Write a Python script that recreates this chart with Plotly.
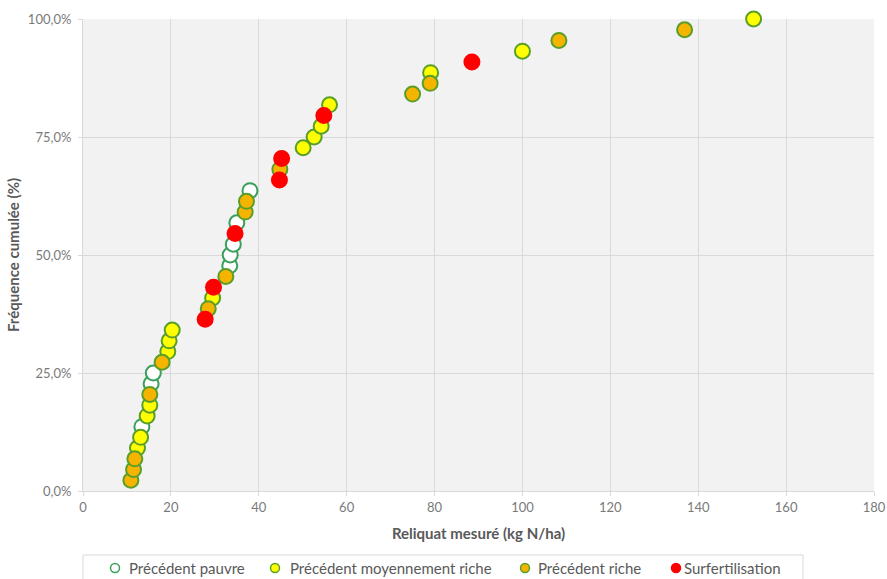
import plotly.graph_objects as go

# Measured residual nitrogen (kg N/ha), sorted ascending, with the previous-crop category of each plot
reliquat = [10.9, 11.5, 11.8, 12.4, 13.1, 13.4, 14.6, 15.2, 15.2, 15.5, 16.0, 18.0, 19.3, 19.6, 20.3,
            27.8, 28.5, 29.5, 29.7, 32.5, 33.4, 33.5, 34.2, 34.6, 35.0, 36.9, 37.2, 38.0,
            44.7, 44.8, 45.2, 50.1, 52.6, 54.2, 54.8, 56.1,
            75.0, 79.0, 79.1, 88.5, 100.0, 108.3, 136.9, 152.6]
categorie = ["R", "R", "R", "M", "M", "P", "M", "M", "R", "P", "P", "R", "M", "M", "M",
             "S", "R", "M", "S", "R", "P", "P", "P", "S", "P", "R", "R", "P",
             "S", "R", "S", "M", "M", "M", "S", "M",
             "R", "R", "M", "S", "M", "R", "R", "M"]

series = [
    ("P", "Précédent pauvre", "#ffffff", "#3a9e5c"),
    ("M", "Précédent moyennement riche", "#ffff00", "#5a9e2a"),
    ("R", "Précédent riche", "#f5b400", "#5a9e2a"),
    ("S", "Surfertilisation", "#ff0000", "#ff0000"),
]

n = len(reliquat)
frequence = [(i + 1) / n for i in range(n)]

fig = go.Figure()
for code, name, fill, edge in series:
    xs = [x for x, c in zip(reliquat, categorie) if c == code]
    ys = [f for f, c in zip(frequence, categorie) if c == code]
    fig.add_trace(go.Scatter(
        x=xs, y=ys, mode="markers", name=name, showlegend=False, cliponaxis=False,
        marker=dict(size=15, color=fill, line=dict(color=edge, width=2)),
    ))

font_family = "Lato, 'Open Sans', sans-serif"
gray = "#595959"
tick_gray = "#7a7a7a"

# Plot area in pixels: x 83..874, y 19..491; helpers to place the legend box below it
PL, PR, PT, PB = 83, 874, 19, 491


def px_x(p):
    return (p - PL) / (PR - PL)


def px_y(p):
    return (PB - p) / (PB - PT)


# Legend: bordered box with a small symbol and label per series
legend_y = 568
symbol_x = [115, 275, 525, 676]
label_x = [127, 288, 536, 682]
shapes = [dict(type="rect", xref="paper", yref="paper",
               x0=px_x(83), x1=px_x(803), y0=px_y(590), y1=px_y(555),
               line=dict(color="#d9d9d9", width=1), fillcolor="white", layer="below")]
annotations = []
for (code, name, fill, edge), sx, lx in zip(series, symbol_x, label_x):
    shapes.append(dict(type="circle", xref="paper", yref="paper",
                       xsizemode="pixel", ysizemode="pixel",
                       xanchor=px_x(sx), yanchor=px_y(legend_y),
                       x0=-4.5, x1=4.5, y0=-4.5, y1=4.5,
                       fillcolor=fill, line=dict(color=edge, width=1.5)))
    annotations.append(dict(text=name, xref="paper", yref="paper",
                            x=px_x(lx), y=px_y(legend_y), xanchor="left", yanchor="middle",
                            showarrow=False, font=dict(size=15, color=gray, family=font_family)))

fig.update_layout(
    width=887, height=579,
    margin=dict(l=PL, r=887 - PR, t=PT, b=579 - PB),
    paper_bgcolor="white",
    plot_bgcolor="#f2f2f2",
    separators=", ",
    showlegend=False,
    font=dict(family=font_family, color=gray, size=12),
    shapes=shapes,
    annotations=annotations,
    xaxis=dict(
        range=[0, 180], dtick=20, tick0=0, automargin=False,
        showgrid=True, gridcolor="#dadada", gridwidth=1,
        zeroline=False, showline=True, linecolor="#d9d9d9",
        ticks="outside", ticklen=4, tickcolor="#d9d9d9",
        tickfont=dict(size=13, color=tick_gray),
        title=dict(text="<b>Reliquat mesuré (kg N/ha)</b>", font=dict(size=15, color=gray), standoff=14),
    ),
    yaxis=dict(
        range=[0, 1], dtick=0.25, tick0=0, tickformat=".1%", automargin=False,
        showgrid=True, gridcolor="#dadada", gridwidth=1,
        zeroline=False, showline=True, linecolor="#d9d9d9",
        ticks="outside", ticklen=4, tickcolor="#d9d9d9", ticklabelstandoff=4,
        tickfont=dict(size=13, color=tick_gray),
        title=dict(text="<b>Fréquence cumulée (%)</b>", font=dict(size=15, color=gray), standoff=4),
    ),
)

fig.write_html("out.html")
